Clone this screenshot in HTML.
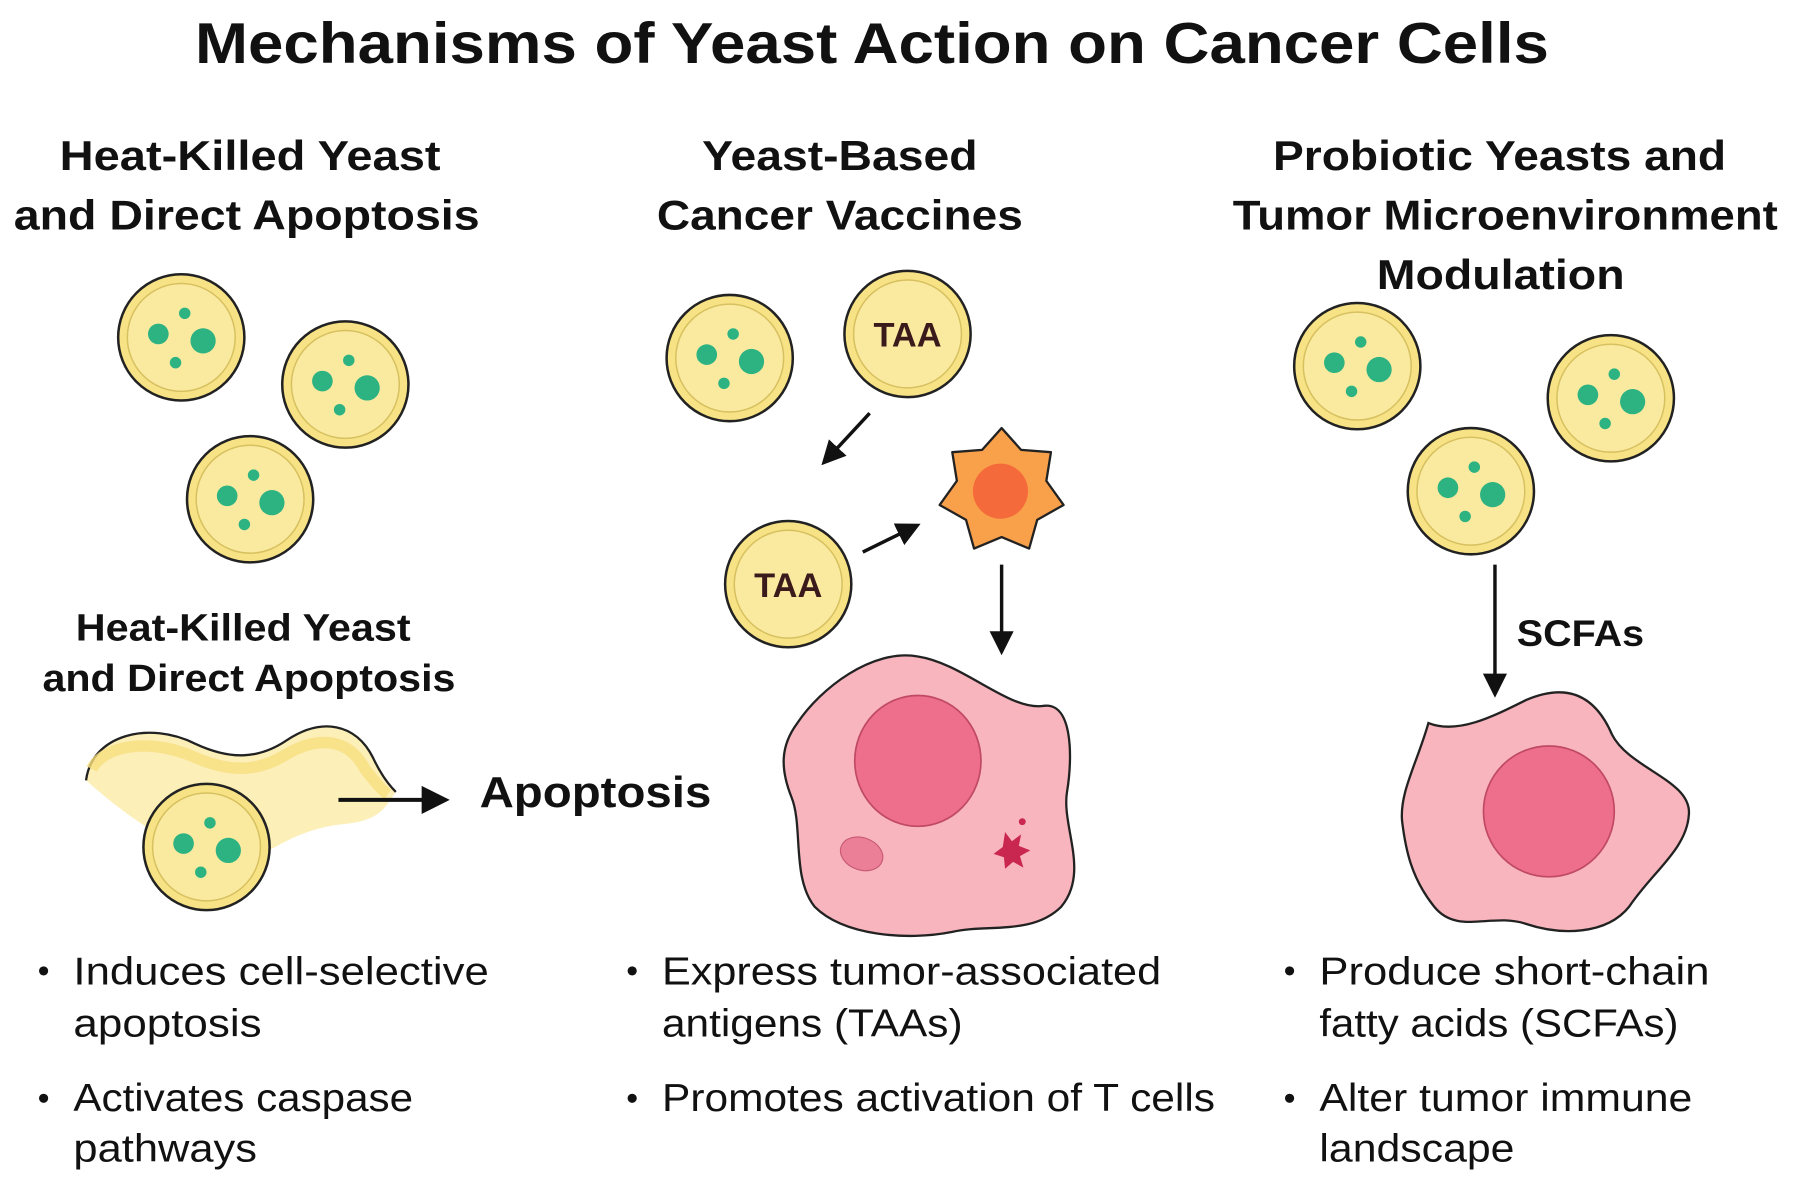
<!DOCTYPE html>
<html><head><meta charset="utf-8"><style>
html,body{margin:0;padding:0;background:#fff;}
svg{display:block;}
text{font-family:"Liberation Sans",sans-serif;fill:#111;}
</style></head><body>
<svg width="1799" height="1197" viewBox="0 0 1568 1043" preserveAspectRatio="none" xmlns="http://www.w3.org/2000/svg">
<defs>
<g id="y">
<circle r="55" fill="#f7e385" stroke="#222" stroke-width="2.2"/>
<circle r="47" fill="#faeaa0" stroke="#d7c060" stroke-width="1.3"/>
<circle cx="-20" cy="-3" r="9" fill="#2db282"/>
<circle cx="19" cy="3" r="11" fill="#2db282"/>
<circle cx="3" cy="-21" r="5" fill="#2db282"/>
<circle cx="-5" cy="22" r="5" fill="#2db282"/>
</g>
<g id="t">
<circle r="55" fill="#f7e385" stroke="#222" stroke-width="2.2"/>
<circle r="47" fill="#faeaa0" stroke="#d7c060" stroke-width="1.3"/>
<text x="0" y="11" text-anchor="middle" font-size="30" font-weight="bold" style="fill:#3a1a1a">TAA</text>
</g>
<marker id="a" markerWidth="8" markerHeight="8" refX="5" refY="4" orient="auto" markerUnits="strokeWidth"><path d="M0,0.5 L7,4 L0,7.5 z" fill="#111"/></marker>
</defs>

<text x="760" y="55" text-anchor="middle" font-size="50" font-weight="bold" textLength="1180" lengthAdjust="spacingAndGlyphs">Mechanisms of Yeast Action on Cancer Cells</text>

<g font-size="36" font-weight="bold" text-anchor="middle">
<text x="218" y="148" textLength="332" lengthAdjust="spacingAndGlyphs">Heat-Killed Yeast</text>
<text x="215" y="200" textLength="406" lengthAdjust="spacingAndGlyphs">and Direct Apoptosis</text>
<text x="732" y="148" textLength="240" lengthAdjust="spacingAndGlyphs">Yeast-Based</text>
<text x="732" y="200" textLength="319" lengthAdjust="spacingAndGlyphs">Cancer Vaccines</text>
<text x="1307" y="148" textLength="395" lengthAdjust="spacingAndGlyphs">Probiotic Yeasts and</text>
<text x="1312" y="200" textLength="475" lengthAdjust="spacingAndGlyphs">Tumor Microenvironment</text>
<text x="1308" y="252" textLength="216" lengthAdjust="spacingAndGlyphs">Modulation</text>
</g>

<!-- left yeasts -->
<use href="#y" x="158" y="294"/>
<use href="#y" x="301" y="335"/>
<use href="#y" x="218" y="435"/>

<g font-size="33" font-weight="bold" text-anchor="middle">
<text x="212" y="558" textLength="292" lengthAdjust="spacingAndGlyphs">Heat-Killed Yeast</text>
<text x="217" y="602" textLength="360" lengthAdjust="spacingAndGlyphs">and Direct Apoptosis</text>
</g>

<!-- membrane -->
<path d="M75,680 C80,640 130,628 170,648 C200,662 225,662 250,645 C280,625 310,630 325,660 C332,675 340,685 345,690 C335,705 330,715 300,718 C260,722 240,740 220,748 C180,760 120,720 75,680 z" fill="#fcefb8"/>
<path d="M75,680 C80,640 130,628 170,648 C200,662 225,662 250,645 C280,625 310,630 325,660 C332,675 340,685 345,690" fill="none" stroke="#222" stroke-width="2"/>
<path d="M80,670 C90,650 130,642 170,660 C200,673 225,673 250,657 C280,640 305,645 318,670 C326,680 332,688 338,692" fill="none" stroke="#f6de7e" stroke-width="10" opacity="0.8"/>
<use href="#y" x="180" y="738"/>
<line x1="295" y1="697" x2="385" y2="697" stroke="#111" stroke-width="3.5" marker-end="url(#a)"/>
<text x="418" y="703" font-size="38" font-weight="bold" textLength="202" lengthAdjust="spacingAndGlyphs">Apoptosis</text>

<!-- middle -->
<use href="#y" x="636" y="312"/>
<use href="#t" x="791" y="291"/>
<use href="#t" x="687" y="509"/>
<line x1="758" y1="360" x2="720" y2="401" stroke="#111" stroke-width="3" marker-end="url(#a)"/>
<line x1="752" y1="481" x2="797" y2="459" stroke="#111" stroke-width="3" marker-end="url(#a)"/>
<polygon points="873,373 890,392 916,394 912,419 927,440 904,453 897,478 873,468 849,478 842,453 819,440 834,419 830,394 856,392" fill="#f9a04a" stroke="#222" stroke-width="2" stroke-linejoin="round"/>
<circle cx="872" cy="428" r="24" fill="#f56a3a"/>
<line x1="873" y1="492" x2="873" y2="565" stroke="#111" stroke-width="3" marker-end="url(#a)"/>

<path d="M695,630 C715,600 760,565 800,572 C840,578 880,620 910,615 C935,612 935,660 930,690 C925,720 950,760 925,790 C900,815 860,805 830,812 C790,820 735,815 710,790 C690,765 700,720 690,695 C680,670 680,650 695,630 z" fill="#f8b5bd" stroke="#222" stroke-width="2"/>
<ellipse cx="800" cy="663" rx="55" ry="57" fill="#ee6f8c" stroke="#c04a64" stroke-width="1.5"/>
<ellipse cx="751" cy="744" rx="19" ry="14" transform="rotate(20 751 744)" fill="#ec7f98" stroke="#c85a74" stroke-width="1"/>
<path d="M876,725 l6,8 l8,-6 l-2,10 l10,4 l-9,5 l3,10 l-9,-5 l-7,6 l-1,-10 l-9,-3 l8,-6 z" fill="#c9274f"/>
<circle cx="891" cy="716" r="3" fill="#c9274f"/>

<!-- right -->
<use href="#y" x="1183" y="319"/>
<use href="#y" x="1404" y="347"/>
<use href="#y" x="1282" y="428"/>
<line x1="1303" y1="492" x2="1303" y2="602" stroke="#111" stroke-width="3" marker-end="url(#a)"/>
<text x="1322" y="563" font-size="32" font-weight="bold" textLength="111" lengthAdjust="spacingAndGlyphs">SCFAs</text>
<path d="M1245,630 C1270,640 1300,625 1330,610 C1365,595 1390,605 1405,640 C1420,670 1475,680 1472,710 C1470,740 1440,760 1420,790 C1400,815 1360,815 1330,805 C1300,795 1270,815 1250,790 C1230,765 1225,740 1222,715 C1220,690 1235,665 1245,630 z" fill="#f8b5bd" stroke="#222" stroke-width="2"/>
<ellipse cx="1350" cy="707" rx="57" ry="57" fill="#ee6f8c" stroke="#c04a64" stroke-width="1.5"/>

<!-- bullets -->
<g font-size="34" style="fill:#111">
<circle cx="38" cy="846" r="4" fill="#111"/><circle cx="38" cy="957" r="4" fill="#111"/>
<text x="64" y="858" textLength="362" lengthAdjust="spacingAndGlyphs">Induces cell-selective</text>
<text x="64" y="903" textLength="164" lengthAdjust="spacingAndGlyphs">apoptosis</text>
<text x="64" y="968" textLength="296" lengthAdjust="spacingAndGlyphs">Activates caspase</text>
<text x="64" y="1012" textLength="160" lengthAdjust="spacingAndGlyphs">pathways</text>
<circle cx="551" cy="846" r="4" fill="#111"/><circle cx="551" cy="957" r="4" fill="#111"/>
<text x="577" y="858" textLength="435" lengthAdjust="spacingAndGlyphs">Express tumor-associated</text>
<text x="577" y="903" textLength="262" lengthAdjust="spacingAndGlyphs">antigens (TAAs)</text>
<text x="577" y="968" textLength="482" lengthAdjust="spacingAndGlyphs">Promotes activation of T cells</text>
<circle cx="1124" cy="846" r="4" fill="#111"/><circle cx="1124" cy="957" r="4" fill="#111"/>
<text x="1150" y="858" textLength="340" lengthAdjust="spacingAndGlyphs">Produce short-chain</text>
<text x="1150" y="903" textLength="313" lengthAdjust="spacingAndGlyphs">fatty acids (SCFAs)</text>
<text x="1150" y="968" textLength="325" lengthAdjust="spacingAndGlyphs">Alter tumor immune</text>
<text x="1150" y="1012" textLength="170" lengthAdjust="spacingAndGlyphs">landscape</text>
</g>
</svg>
</body></html>
